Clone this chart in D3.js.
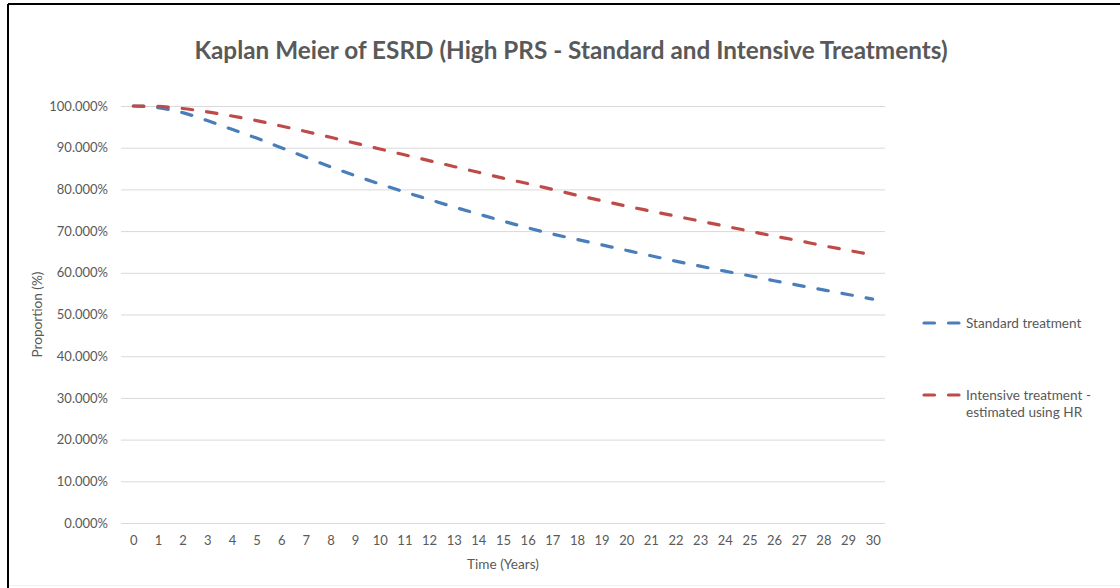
<!DOCTYPE html>
<html>
<head>
<meta charset="utf-8">
<script src="https://cdn.jsdelivr.net/npm/d3@7"></script>
<style>
  html, body { margin: 0; padding: 0; background: #fff; }
  svg { display: block; }
  text { font-family: Lato, "Open Sans", sans-serif; fill: #595959; }
</style>
</head>
<body>
<svg id="chart" width="1120" height="588"></svg>
<script>
// Survival proportions (%) by year of follow-up
const years = d3.range(0, 31);
const standard = [100, 99.6, 98.4, 96.5, 94.4, 92.3, 90.0, 87.7, 85.4, 83.3, 81.3,
  79.4, 77.6, 75.8, 74.1, 72.4, 70.8, 69.3, 68.0, 66.7, 65.4,
  64.1, 62.8, 61.6, 60.4, 59.3, 58.1, 57.0, 55.9, 54.8, 53.7];
const intensive = [100, 99.9, 99.4, 98.6, 97.6, 96.5, 95.2, 93.9, 92.5, 91.1, 89.7,
  88.3, 86.9, 85.5, 84.1, 82.7, 81.4, 80.0, 78.6, 77.3, 76.0,
  74.8, 73.6, 72.4, 71.2, 70.0, 68.8, 67.7, 66.5, 65.4, 64.3];
const yTicks = [0, 10, 20, 30, 40, 50, 60, 70, 80, 90, 100];
const seriesNames = ["Standard treatment", "Intensive treatment - estimated using HR"];
const seriesColors = ["#4A7EBB", "#BE4B48"];

const svg = d3.select("#chart");

// outer frame (top and left edges), faint bottom edge
svg.append("line").attr("x1", 8).attr("y1", 4).attr("x2", 1120).attr("y2", 4)
  .attr("stroke", "#000").attr("stroke-width", 2);
svg.append("line").attr("x1", 8).attr("y1", 4).attr("x2", 8).attr("y2", 588)
  .attr("stroke", "#000").attr("stroke-width", 2);
svg.append("line").attr("x1", 9).attr("y1", 585.5).attr("x2", 1120).attr("y2", 585.5)
  .attr("stroke", "#F0F0F0").attr("stroke-width", 1);

const plot = { left: 121, right: 885, top: 106, bottom: 523 };

const x = d3.scalePoint().domain(years).range([plot.left, plot.right]).padding(0.5);
const y = d3.scaleLinear().domain([0, 100]).range([plot.bottom, plot.top]);

// title
svg.append("text")
  .attr("x", 571).attr("y", 59)
  .attr("text-anchor", "middle")
  .style("font-size", "24.3px").style("font-weight", "bold")
  .text("Kaplan Meier of ESRD (High PRS - Standard and Intensive Treatments)");

// horizontal gridlines + y labels
const yAxis = d3.axisLeft(y).tickValues(yTicks)
  .tickSize(-(plot.right - plot.left))
  .tickPadding(13)
  .tickFormat(d => d.toFixed(3) + "%");
const gy = svg.append("g").attr("transform", `translate(${plot.left},0)`).call(yAxis);
gy.select(".domain").remove();
gy.selectAll(".tick line").attr("stroke", "#D9D9D9").attr("stroke-width", 1);
gy.selectAll(".tick text").style("font-size", "13px").attr("fill", "#595959")
  .style("font-family", "Lato, 'Open Sans', sans-serif");

// x axis labels
const xAxis = d3.axisBottom(x).tickSize(0).tickPadding(13);
const gx = svg.append("g").attr("transform", `translate(0,${plot.bottom})`).call(xAxis);
gx.select(".domain").remove();
gx.selectAll(".tick text").style("font-size", "13px").attr("fill", "#595959")
  .style("font-family", "Lato, 'Open Sans', sans-serif");

// axis titles
svg.append("text").attr("x", 503).attr("y", 569).attr("text-anchor", "middle")
  .style("font-size", "13.6px").text("Time (Years)");
svg.append("text")
  .attr("transform", `translate(42,${(plot.top + plot.bottom) / 2}) rotate(-90)`)
  .attr("text-anchor", "middle")
  .style("font-size", "13.6px").text("Proportion (%)");

// series lines
const line = d3.line().x((d, i) => x(years[i])).y(d => y(d)).curve(d3.curveMonotoneX);
[standard, intensive].forEach((vals, k) => {
  svg.append("path").datum(vals)
    .attr("d", line)
    .attr("fill", "none")
    .attr("stroke", seriesColors[k])
    .attr("stroke-width", 3.2)
    .attr("stroke-linecap", "round")
    .attr("stroke-dasharray", "10.5,14");
});

// legend
const legend = [
  { y: 323, lines: ["Standard treatment"] },
  { y: 395, lines: ["Intensive treatment -", "estimated using HR"] }
];
legend.forEach((item, k) => {
  svg.append("line")
    .attr("x1", 924).attr("x2", 960).attr("y1", item.y).attr("y2", item.y)
    .attr("stroke", seriesColors[k]).attr("stroke-width", 3.2)
    .attr("stroke-linecap", "round").attr("stroke-dasharray", "10.5,14");
  const t = svg.append("text").attr("x", 966).attr("y", item.y + 5).style("font-size", "13.6px");
  item.lines.forEach((s, j) => {
    t.append("tspan").attr("x", 966).attr("dy", j === 0 ? 0 : 17).text(s);
  });
});
</script>
</body>
</html>
